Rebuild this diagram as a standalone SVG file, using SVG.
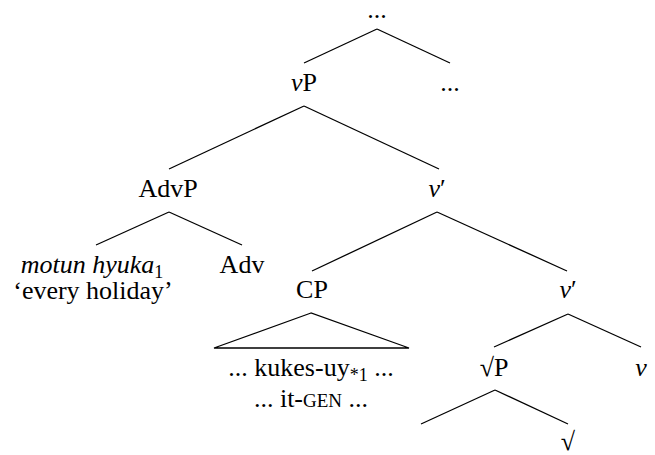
<svg xmlns="http://www.w3.org/2000/svg" width="655" height="455" viewBox="0 0 655 455">
<rect width="655" height="455" fill="#fff"/>
<g id="connectors" stroke="#000" stroke-width="1.3" fill="none">
<line x1="377" y1="29" x2="304" y2="63"/>
<line x1="377" y1="29" x2="450" y2="63"/>
<line x1="304" y1="106" x2="169" y2="169"/>
<line x1="304" y1="106" x2="439" y2="169"/>
<line x1="169" y1="212" x2="96" y2="245"/>
<line x1="169" y1="212" x2="242" y2="245"/>
<line x1="437" y1="212" x2="312" y2="271"/>
<line x1="437" y1="212" x2="567" y2="271"/>
<polygon points="311,313 214,348 409,348"/>
<line x1="568" y1="314" x2="494" y2="347"/>
<line x1="568" y1="314" x2="641" y2="347"/>
<line x1="495" y1="390" x2="421" y2="424"/>
<line x1="495" y1="390" x2="568" y2="424"/>
</g>
<g id="top"><text x="377" y="18" font-family="Liberation Serif, serif" font-size="26" text-anchor="middle">...</text></g>
<g id="vP"><text x="304" y="91" font-family="Liberation Serif, serif" font-size="26" text-anchor="middle"><tspan font-style="italic">v</tspan>P</text></g>
<g id="dots"><text x="450" y="91" font-family="Liberation Serif, serif" font-size="26" text-anchor="middle">...</text></g>
<g id="AdvP"><text x="168" y="197" font-family="Liberation Serif, serif" font-size="26" text-anchor="middle">AdvP</text></g>
<g id="vbar1"><text x="437" y="197" font-family="Liberation Serif, serif" font-size="26" text-anchor="middle"><tspan font-style="italic">v</tspan>&#8242;</text></g>
<g id="motun"><text x="92" y="273" font-family="Liberation Serif, serif" font-size="26" text-anchor="middle"><tspan font-style="italic">motun hyuka</tspan><tspan font-size="18" dy="5">1</tspan></text><text x="93" y="299" font-family="Liberation Serif, serif" font-size="26" text-anchor="middle">&#8216;every holiday&#8217;</text></g>
<g id="Adv"><text x="242" y="273" font-family="Liberation Serif, serif" font-size="26" text-anchor="middle">Adv</text></g>
<g id="CP"><text x="312" y="298" font-family="Liberation Serif, serif" font-size="26" text-anchor="middle">CP</text><text x="311" y="376" font-family="Liberation Serif, serif" font-size="26" text-anchor="middle">... kukes-uy<tspan font-size="18" dy="5">*1</tspan><tspan dy="-5"> ...</tspan></text><text x="311" y="407" font-family="Liberation Serif, serif" font-size="26" text-anchor="middle">... it-<tspan font-size="19">GEN</tspan> ...</text></g>
<g id="vbar2"><text x="568" y="298" font-family="Liberation Serif, serif" font-size="26" text-anchor="middle"><tspan font-style="italic">v</tspan>&#8242;</text></g>
<g id="rootP"><text x="494" y="376" font-family="Liberation Serif, serif" font-size="26" text-anchor="middle">&#8730;P</text></g>
<g id="v"><text x="641" y="376" font-family="Liberation Serif, serif" font-size="26" text-anchor="middle" font-style="italic">v</text></g>
<g id="root"><text x="568" y="450" font-family="Liberation Serif, serif" font-size="26" text-anchor="middle">&#8730;</text></g>
</svg>
